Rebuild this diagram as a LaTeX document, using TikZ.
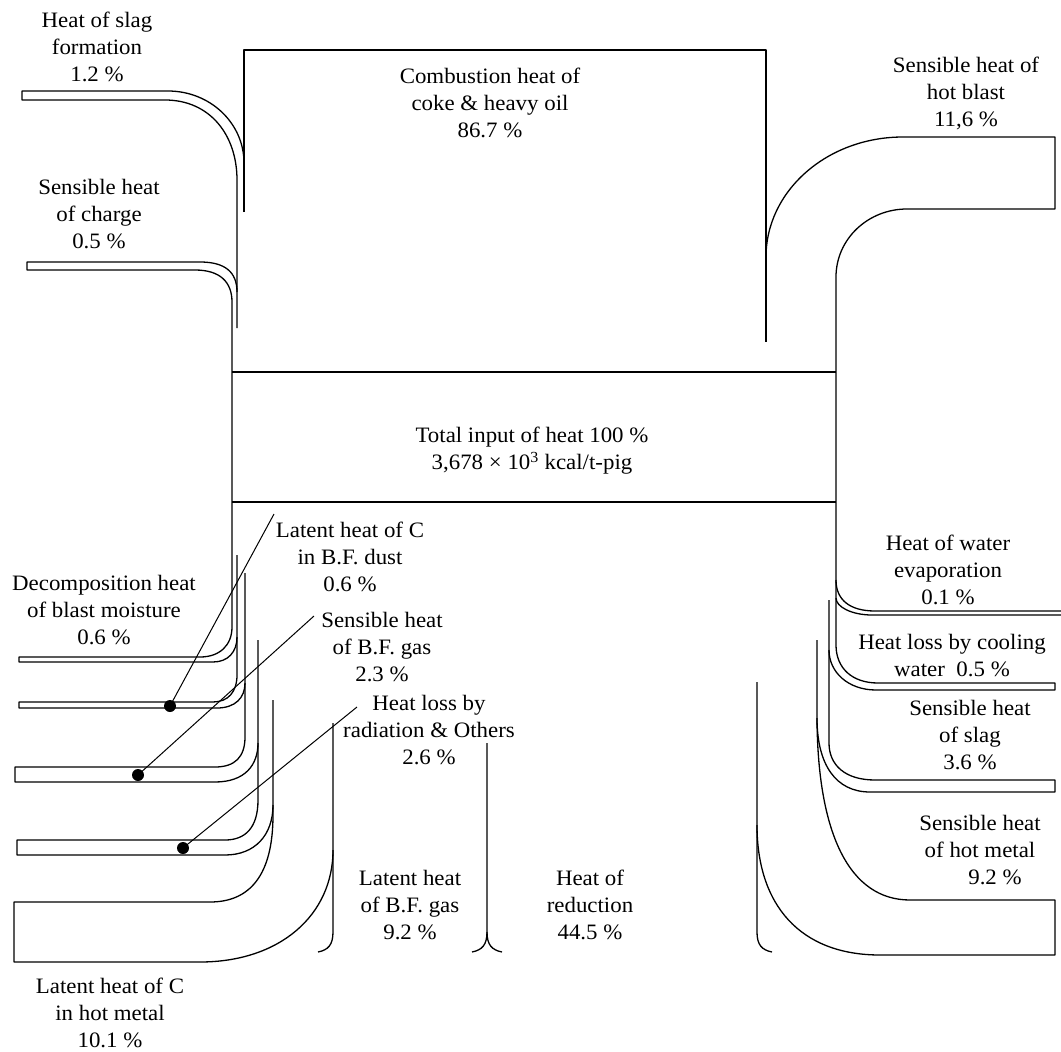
\documentclass[tikz,border=0pt]{standalone}
\usepackage{fontspec}
\setmainfont{Liberation Serif}[FakeStretch=1.04]
\begin{document}
\begin{tikzpicture}[x=1pt,y=-1pt,
  flow/.style={draw=black,line width=1.3pt,line join=round},
  ptr/.style={draw=black,line width=1pt},
  lbl/.style={align=center,inner sep=0pt,font=\fontsize{22}{27}\selectfont},
  dotm/.style={circle,fill=black,inner sep=0pt,minimum size=12pt}]
\useasboundingbox (0,0) rectangle (1061,1052);

% ---------- labels ----------
\node[lbl] (slagf) at (97,47) {Heat of slag\\formation\\1.2 \%};
\node[lbl] (charge) at (99,214) {Sensible heat\\of charge\\0.5 \%};
\node[lbl] (comb) at (490,103) {Combustion heat of\\coke \& heavy oil\\86.7 \%};
\node[lbl] (hotb) at (966,93) {Sensible heat of\\hot blast\\11,6 \%};
\node[lbl] (total) at (532,451) {Total input of heat 100 \%\\3,678 × 10\textsuperscript{3} kcal/t-pig};
\node[lbl] (decomp) at (104,610) {Decomposition heat\\of blast moisture\\0.6 \%};
\node[lbl] (dust) at (350,557) {Latent heat of C\\in B.F. dust\\0.6 \%};
\node[lbl] (gas) at (382,647) {Sensible heat\\of B.F. gas\\2.3 \%};
\node[lbl] (rad) at (429,730) {Heat loss by\\radiation \& Others\\2.6 \%};
\node[lbl] (hmc) at (110,1013) {Latent heat of C\\in hot metal\\10.1 \%};
\node[lbl] (bfl) at (410,905) {Latent heat\\of B.F. gas\\9.2 \%};
\node[lbl] (red) at (590,905) {Heat of\\reduction\\44.5 \%};
\node[lbl] (evap) at (948,570) {Heat of water\\evaporation\\0.1 \%};
\node[lbl] (cool) at (952,656) {Heat loss by cooling\\water\ \ 0.5 \%};
\node[lbl] (slag) at (970,735) {Sensible heat\\of slag\\3.6 \%};
\node[lbl] (hm) at (980,850) {Sensible heat\\of hot metal\\\hspace*{30pt}9.2 \%};

% ---------- input side ----------
% combustion of coke & heavy oil
\draw[flow] (244,212) -- (244,50) -- (766,50) -- (766,342);
% heat of slag formation
\draw[flow] (244,163) .. controls (244,123) and (210,91) .. (168,91) -- (22,91) -- (22,100) -- (165,100) .. controls (210,100) and (237,135) .. (237,180) -- (237,328);
% sensible heat of charge, trunk left edge, decomposition heat
\draw[flow] (237,292) .. controls (237,272) and (225,262) .. (200,262) -- (27,262) -- (27,270) -- (195,270) .. controls (220,270) and (232,282) .. (232,302) -- (232,627) .. controls (232,645) and (220,657) .. (200,657) -- (19,657) -- (19,662) -- (213,662) .. controls (228,662) and (237,652) .. (237,637);
% total input band
\draw[flow] (232,372) -- (836,372);
\draw[flow] (232,502) -- (836,502);
% hot blast, trunk right edge, cooling water
\draw[flow] (766,257) .. controls (766,191) and (827,137) .. (903,137) -- (1055,137) -- (1055,209) -- (907,209) .. controls (868,209) and (836,239) .. (836,277) -- (836,645) .. controls (836,668) and (852,683) .. (878,683) -- (1055,683) -- (1055,690) -- (876,690) .. controls (848,690) and (829,672) .. (829,650);

% ---------- right outputs ----------
\draw[flow] (836,580) .. controls (836,600) and (850,611) .. (875,611) -- (1061,611);
\draw[flow] (1061,615) -- (872,615) .. controls (852,615) and (836,607) .. (836,598);
\draw[flow] (829,600) -- (829,743) .. controls (829,765) and (845,780) .. (875,780) -- (1055,780) -- (1055,792) -- (870,792) .. controls (836,792) and (817,765) .. (817,718);
\draw[flow] (817,640) -- (817,715) .. controls (817,835) and (850,900) .. (910,900) -- (1055,900) -- (1055,955) -- (880,955) .. controls (800,955) and (757,905) .. (757,825);
\draw[flow] (757,682) -- (757,932) .. controls (757,945) and (762,950) .. (772,952);

% ---------- left outputs ----------
\draw[flow] (237,555) -- (237,675) .. controls (237,692) and (228,702) .. (213,702) -- (19,702) -- (19,708) -- (217,708) .. controls (235,708) and (245,698) .. (245,683);
\draw[flow] (245,573) -- (245,737) .. controls (245,757) and (235,767) .. (215,767) -- (15,767) -- (15,782) -- (215,782) .. controls (245,782) and (258,765) .. (258,743);
\draw[flow] (258,640) -- (258,800) .. controls (258,828) and (245,840) .. (225,840) -- (17,840) -- (17,855) -- (225,855) .. controls (255,855) and (273,835) .. (273,805);
\draw[flow] (273,700) -- (273,815) .. controls (273,875) and (250,902) .. (210,902) -- (14,902) -- (14,962) -- (200,962) .. controls (280,962) and (333,915) .. (333,850);

% ---------- bottom outputs ----------
\draw[flow] (333,723) -- (333,932) .. controls (333,945) and (328,950) .. (318,952);
\draw[flow] (487,743) -- (487,932) .. controls (487,945) and (482,950) .. (472,952);
\draw[flow] (487,932) .. controls (487,945) and (492,950) .. (502,952);

% ---------- pointers ----------
\node[dotm] (d1) at (170,706) {};
\node[dotm] (d2) at (138,775) {};
\node[dotm] (d3) at (183,848) {};
\coordinate (p1) at (274,514);
\coordinate (p2) at (314,616);
\coordinate (p3) at (357,707);
\draw[ptr] (d1.center) -- (p1);
\draw[ptr] (d2.center) -- (p2);
\draw[ptr] (d3.center) -- (p3);
\end{tikzpicture}
\end{document}
